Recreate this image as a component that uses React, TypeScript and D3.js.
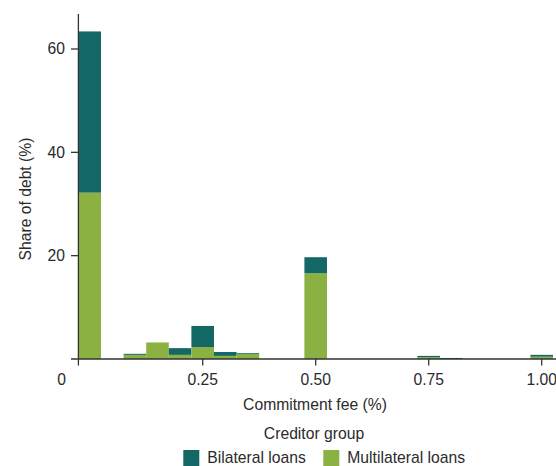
import React from "react";
import * as d3 from "d3";

const feeBins = [0, 0.1, 0.15, 0.2, 0.25, 0.3, 0.35, 0.5, 0.75, 0.8, 1.0];
const multilateral = [32.2, 0.8, 3.2, 0.8, 2.3, 0.6, 1.0, 16.6, 0.35, 0, 0.45];
const bilateral = [31.2, 0.2, 0, 1.3, 4.1, 0.75, 0.15, 3.1, 0.25, 0.2, 0.35];
const xTicks = [0.25, 0.5, 0.75, 1.0];
const xTickLabels = ["0.25", "0.50", "0.75", "1.00"];
const yTicks = [20, 40, 60];
const seriesNames = ["Bilateral loans", "Multilateral loans"];
const colors = ["#136866", "#8ab142"];

const BIN_W = 0.05;
const FONT = "'Liberation Sans', Arial, Helvetica, sans-serif";
const FS = 15.7;
const TXT = "#2b2b2b";

export default function App() {
  const x = d3.scaleLinear().domain([0, 1]).range([89.7, 541.7]);
  const y = d3.scaleLinear().domain([0, 60]).range([359, 49]);
  const x0 = 78.4;
  const y0 = y(0);

  const stacked = feeBins.map((f, i) => ({ f, m: multilateral[i], b: bilateral[i] }));

  return (
    <svg
      width={556}
      height={466}
      style={{ position: "absolute", left: 0, top: 0, display: "block" }}
      fontFamily={FONT}
    >
      <rect width={556} height={466} fill="#fff" />
      {stacked.map((d, i) => (
        <g key={i}>
          {d.m > 0 && (
            <rect
              x={x(d.f - BIN_W / 2)}
              width={x(d.f + BIN_W / 2) - x(d.f - BIN_W / 2)}
              y={y(d.m)}
              height={y0 - y(d.m)}
              fill={colors[1]}
            />
          )}
          {d.b > 0 && (
            <rect
              x={x(d.f - BIN_W / 2)}
              width={x(d.f + BIN_W / 2) - x(d.f - BIN_W / 2)}
              y={y(d.m + d.b)}
              height={y(d.m) - y(d.m + d.b)}
              fill={colors[0]}
            />
          )}
        </g>
      ))}
      {/* axes */}
      <line x1={71} x2={556} y1={y0} y2={y0} stroke="#333" strokeWidth={1.3} />
      <line x1={x0} x2={x0} y1={14} y2={y0 + 6.5} stroke="#333" strokeWidth={1.3} />
      {xTicks.map((t, i) => (
        <g key={t}>
          <line x1={x(t)} x2={x(t)} y1={y0} y2={y0 + 6.5} stroke="#333" strokeWidth={1.3} />
          <text x={x(t)} y={385} textAnchor="middle" fontSize={FS} fill={TXT}>
            {xTickLabels[i]}
          </text>
        </g>
      ))}
      <text x={61.5} y={385} textAnchor="middle" fontSize={FS} fill={TXT}>
        0
      </text>
      {yTicks.map((t) => (
        <g key={t}>
          <line x1={71} x2={x0} y1={y(t)} y2={y(t)} stroke="#333" strokeWidth={1.3} />
          <text x={65} y={y(t)} dy="0.35em" textAnchor="end" fontSize={FS} fill={TXT}>
            {t}
          </text>
        </g>
      ))}
      <text
        transform={`translate(31,199) rotate(-90)`}
        textAnchor="middle"
        fontSize={FS}
        fill={TXT}
      >
        Share of debt (%)
      </text>
      <text x={315} y={410} textAnchor="middle" fontSize={FS} fill={TXT}>
        Commitment fee (%)
      </text>
      <text x={314} y={438.5} textAnchor="middle" fontSize={FS} fill={TXT}>
        Creditor group
      </text>
      {seriesNames.map((s, i) => {
        const lx = i === 0 ? 183.3 : 323.3;
        return (
          <g key={s}>
            <rect x={lx} y={450} width={16} height={16} fill={colors[i]} />
            <text x={lx + 24} y={458} dy="0.35em" fontSize={FS} fill={TXT}>
              {s}
            </text>
          </g>
        );
      })}
    </svg>
  );
}
